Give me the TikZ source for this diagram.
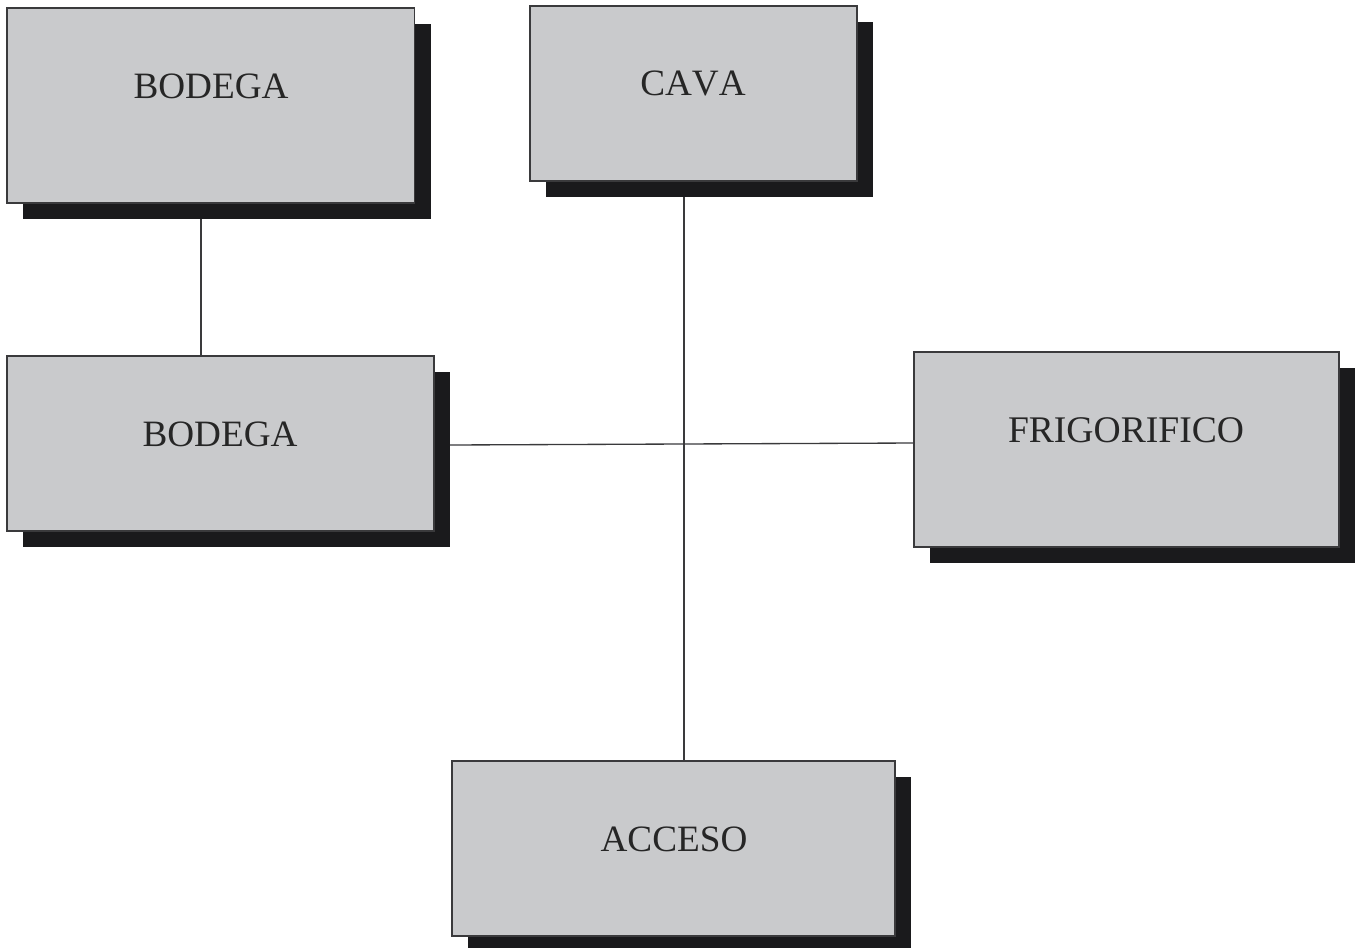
\documentclass[tikz,border=0pt]{standalone}
\usepackage{fontspec}
\setmainfont[Kerning=Off]{Liberation Serif}
\usetikzlibrary{calc}
\definecolor{boxfill}{HTML}{C9CACC}
\definecolor{shade}{HTML}{1A1A1C}
\definecolor{ink}{HTML}{3A3A3C}
\newcommand{\px}{0.0264583cm}
\tikzset{
  x=0.0264583cm,y=-0.0264583cm,
  boxshape/.style={draw=ink,line width=1.05pt,fill=boxfill,inner sep=0pt,outer sep=0pt,anchor=north west},
  shadowshape/.style={fill=shade,inner sep=0pt,outer sep=0pt,anchor=north west},
  lbl/.style={font=\fontsize{28}{32}\selectfont,text=black!85,inner sep=0pt,anchor=base},
  link/.style={draw=ink,line width=1pt}
}
\newcommand{\dbox}[5]{% name x0 y0 x1 y1
  \node[shadowshape,minimum width={(#4-#2)*\px},minimum height={(#5-#3)*\px}] (#1s) at (#2+16,#3+16) {};
  \node[boxshape,minimum width={(#4-#2)*\px},minimum height={(#5-#3)*\px}] (#1) at (#2,#3) {};
}
\begin{document}
\begin{tikzpicture}
\useasboundingbox (0,0) rectangle (1360,947);
\fill[white] (0,0) rectangle (1360,947);
\dbox{bodegaA}{7}{8}{414.5}{203}
\dbox{cava}{530}{6}{857}{181}
\dbox{bodegaB}{7}{356}{434}{531}
\dbox{frigo}{914}{352}{1339}{547}
\dbox{acceso}{452}{761}{895}{936}
\draw[link] ($(bodegaAs.south west)+(178,0)$) -- ($(bodegaB.north west)+(194,0)$);
\draw[link] ($(cavas.south west)+(138,0)$) -- ($(acceso.north west)+(232,0)$);
\draw[link] ($(bodegaBs.north east)+(0,73)$) -- ($(frigo.north west)+(0,91)$);
\node[lbl] (t1) at (211,98) {BODEGA};
\node[lbl] (t2) at (693,95) {CAVA};
\node[lbl] (t3) at (220,446) {BODEGA};
\node[lbl,font=\fontsize{28.3}{32}\selectfont] (t4) at (1126,442) {FRIGORIFICO};
\node[lbl] (t5) at (674,851) {ACCESO};
\end{tikzpicture}
\end{document}
